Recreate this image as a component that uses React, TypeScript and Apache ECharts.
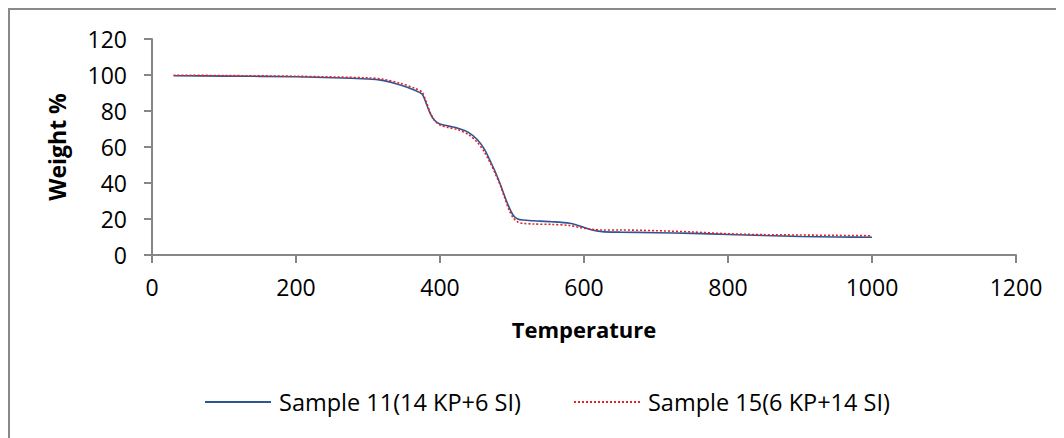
import React, { useEffect, useRef } from "react";
import * as echarts from "echarts";

const temperatures = [30, 100, 200, 300, 320, 345, 365, 375, 381, 386, 392, 400, 412, 425, 440, 452, 462, 470, 477, 484, 490, 496, 502, 508, 515, 530, 555, 580, 595, 610, 625, 650, 700, 750, 800, 850, 900, 950, 1000];

const sample11 = [99.6, 99.4, 99.0, 97.8, 97.0, 94.4, 91.5, 89.5, 84, 79, 75, 72.8, 71.6, 70.4, 68, 64, 58.5, 52, 46, 39, 32.5, 26.5, 22, 20, 19.4, 19.0, 18.5, 17.6, 16, 14, 13, 12.7, 12.4, 12, 11.4, 10.8, 10.3, 10.0, 9.9];

const sample15 = [99.9, 99.7, 99.3, 98.4, 97.7, 95.4, 92.6, 90.5, 85, 79.5, 75, 72.2, 70.8, 69.6, 66.8, 62.5, 57, 51, 45, 38.5, 31.5, 25, 20.5, 18.3, 17.6, 17.2, 17.0, 16.4, 15.2, 14.3, 13.9, 13.9, 13.5, 12.8, 11.8, 11.3, 11.1, 10.9, 10.7];

const seriesNames = ["Sample 11(14 KP+6 SI)", "Sample 15(6 KP+14 SI)"];
const xTitle = "Temperature";
const yTitle = "Weight %";

const FONT = "'Open Sans', 'Liberation Sans', sans-serif";
const AXIS_COLOR = "#868686";

export default function App() {
  const ref = useRef<HTMLDivElement>(null);
  useEffect(() => {
    if (!ref.current) return;
    const chart = echarts.init(ref.current, null, { renderer: "svg" });
    const axisCommon = {
      axisLine: { show: true, lineStyle: { color: AXIS_COLOR, width: 2 } },
      axisTick: { show: true, inside: false, length: 8, lineStyle: { color: AXIS_COLOR, width: 2 } },
      splitLine: { show: false },
    };
    chart.setOption({
      animation: false,
      backgroundColor: "#ffffff",
      graphic: [
        {
          type: "rect",
          shape: { x: 1, y: 1, width: 2000, height: 2000 },
          style: { fill: "none", stroke: "#898989", lineWidth: 2 },
          silent: true,
        },
      ],
      grid: { left: 144, top: 31, width: 864, height: 216, containLabel: false },
      legend: {
        left: 191,
        top: 377,
        itemWidth: 66,
        itemHeight: 20,
        itemGap: 52,
        itemStyle: { opacity: 0 },
        textStyle: { fontFamily: FONT, fontSize: 23.5, color: "#000", padding: [0, 0, 0, 3] },
        data: seriesNames,
      },
      xAxis: {
        type: "value",
        min: 0,
        max: 1200,
        interval: 200,
        name: xTitle,
        nameLocation: "middle",
        nameGap: 63,
        nameTextStyle: { fontFamily: FONT, fontSize: 22, fontWeight: "bold", color: "#000" },
        axisLabel: { fontFamily: FONT, fontSize: 23, color: "#000", margin: 20, formatter: (v: number) => String(v) },
        ...axisCommon,
      },
      yAxis: {
        type: "value",
        min: 0,
        max: 120,
        interval: 20,
        name: yTitle,
        nameLocation: "middle",
        nameGap: 84,
        nameRotate: 90,
        nameTextStyle: { fontFamily: FONT, fontSize: 23, fontWeight: "bold", color: "#000" },
        axisLabel: { fontFamily: FONT, fontSize: 23, color: "#000", margin: 25, formatter: (v: number) => String(v) },
        ...axisCommon,
      },
      series: [
        {
          name: seriesNames[0],
          type: "line",
          smooth: 0.3,
          symbol: "none",
          data: temperatures.map((t, i) => [t, sample11[i]]),
          lineStyle: { color: "#2E5597", width: 1.6 },
          itemStyle: { color: "#2E5597" },
          z: 2,
        },
        {
          name: seriesNames[1],
          type: "line",
          smooth: 0.3,
          symbol: "none",
          data: temperatures.map((t, i) => [t, sample15[i]]),
          lineStyle: { color: "#E02424", width: 1.6, type: [2, 2] },
          itemStyle: { color: "#E02424" },
          z: 3,
        },
      ],
    });
    return () => chart.dispose();
  }, []);
  return <div ref={ref} style={{ width: 1056, height: 430, overflow: "hidden" }} />;
}
